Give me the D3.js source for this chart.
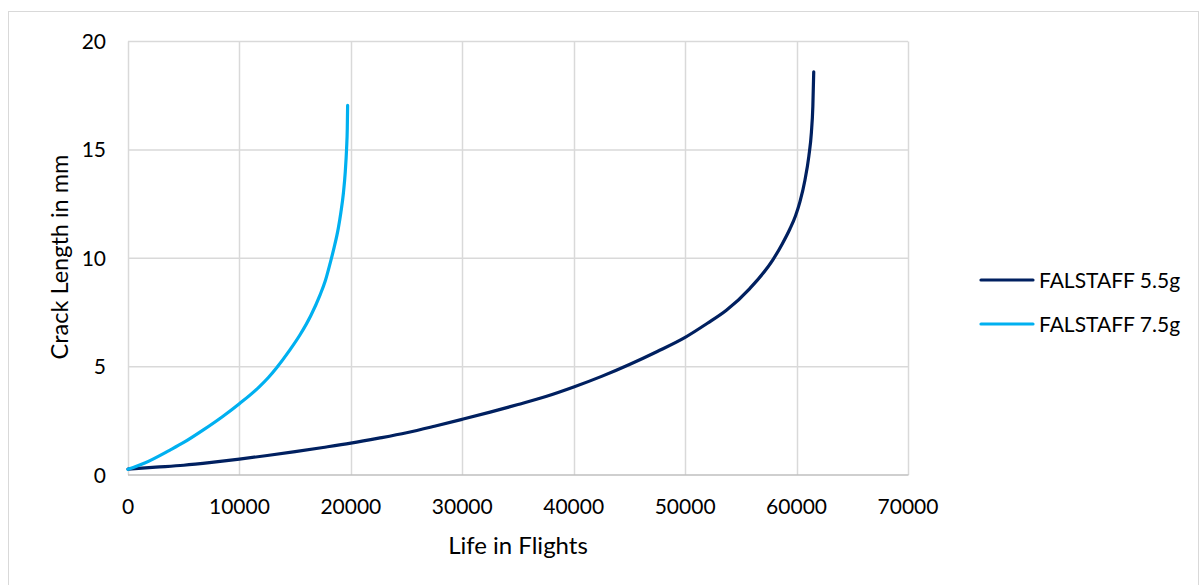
<!DOCTYPE html>
<html>
<head>
<meta charset="utf-8">
<script src="https://cdn.jsdelivr.net/npm/d3@7"></script>
<style>
  html, body { margin: 0; padding: 0; background: #fff; }
  svg text { font-family: Lato, "Open Sans", sans-serif; fill: #000; }
</style>
</head>
<body>
<svg id="chart" width="1200" height="585"></svg>
<script>
// ---- data ----
const seriesNames = ["FALSTAFF 5.5g", "FALSTAFF 7.5g"];
const seriesColors = ["#002060", "#00b0f0"];
const flights55 = [0, 2500, 5000, 7500, 10000, 12500, 15000, 17500, 20000, 22500, 25000, 27500, 30000, 32500, 35000, 37500, 40000, 42500, 45000, 47500, 50000, 52000, 53700, 55800, 57900, 58700, 59400, 59900, 60300, 60750, 61100, 61330, 61460, 61540];
const crack55   = [0.27, 0.36, 0.45, 0.58, 0.73, 0.9, 1.08, 1.27, 1.47, 1.7, 1.95, 2.25, 2.57, 2.9, 3.25, 3.62, 4.06, 4.55, 5.1, 5.7, 6.35, 7.0, 7.6, 8.6, 9.95, 10.65, 11.35, 11.95, 12.6, 13.6, 14.7, 15.8, 17.0, 18.6];
const flights75 = [0, 1500, 3770, 5000, 6760, 8500, 10050, 11800, 12600, 13340, 14500, 15440, 16400, 17230, 17700, 18130, 18500, 18880, 19100, 19330, 19500, 19620, 19680, 19710];
const crack75   = [0.26, 0.55, 1.15, 1.5, 2.08, 2.7, 3.31, 4.08, 4.5, 4.95, 5.75, 6.47, 7.35, 8.3, 8.95, 9.75, 10.5, 11.4, 12.1, 13.0, 14.0, 15.1, 16.0, 17.05];
const xTicks = [0, 10000, 20000, 30000, 40000, 50000, 60000, 70000];
const yTicks = [0, 5, 10, 15, 20];
const xTitle = "Life in Flights";
const yTitle = "Crack Length in mm";

(function () {
// ---- layout ----
const svg = d3.select("#chart");
const pL = 128, pR = 908, pT = 41.5, pB = 475;

svg.append("rect").attr("x", 8.5).attr("y", 11.5).attr("width", 1190).attr("height", 600)
  .attr("fill", "none").attr("stroke", "#d9d9d9").attr("stroke-width", 1);

const x = d3.scaleLinear().domain([0, 70000]).range([pL, pR]);
const y = d3.scaleLinear().domain([0, 20]).range([pB, pT]);

// gridlines
svg.append("g").selectAll("line").data(xTicks).join("line")
  .attr("x1", d => Math.round(x(d)) + 0.5).attr("x2", d => Math.round(x(d)) + 0.5)
  .attr("y1", pT).attr("y2", pB)
  .attr("stroke", "#d9d9d9").attr("stroke-width", 1.5);
svg.append("g").selectAll("line").data(yTicks.filter(d => d > 0)).join("line")
  .attr("x1", pL).attr("x2", pR)
  .attr("y1", d => y(d)).attr("y2", d => y(d))
  .attr("stroke", "#d9d9d9").attr("stroke-width", 1.5);
// bottom axis line
svg.append("line").attr("x1", pL).attr("x2", pR + 0.5).attr("y1", pB).attr("y2", pB)
  .attr("stroke", "#bfbfbf").attr("stroke-width", 1.5);

// tick labels
svg.append("g").selectAll("text").data(xTicks).join("text")
  .attr("x", d => x(d)).attr("y", 514).attr("text-anchor", "middle")
  .attr("font-size", 21).text(d => d);
svg.append("g").selectAll("text").data(yTicks).join("text")
  .attr("x", 106).attr("y", d => y(d) + 7.5).attr("text-anchor", "end")
  .attr("font-size", 21).text(d => d);

// titles
svg.append("text").attr("x", 518).attr("y", 554).attr("text-anchor", "middle")
  .attr("font-size", 24).text(xTitle);
svg.append("text").attr("transform", "translate(68,257) rotate(-90)").attr("text-anchor", "middle")
  .attr("font-size", 23.5).text(yTitle);

// lines
const line = d3.line().x(d => x(d[0])).y(d => y(d[1])).curve(d3.curveMonotoneX);
const data = [d3.zip(flights55, crack55), d3.zip(flights75, crack75)];
svg.append("g").selectAll("path").data(data).join("path")
  .attr("d", line).attr("fill", "none")
  .attr("stroke", (d, i) => seriesColors[i]).attr("stroke-width", 3.2)
  .attr("stroke-linecap", "round").attr("stroke-linejoin", "round");

// legend
const lg = svg.append("g").selectAll("g").data(seriesNames).join("g")
  .attr("transform", (d, i) => `translate(0,${280 + i * 44})`);
lg.append("line").attr("x1", 981).attr("x2", 1033).attr("y1", 0).attr("y2", 0)
  .attr("stroke", (d, i) => seriesColors[i]).attr("stroke-width", 3.2).attr("stroke-linecap", "round");
lg.append("text").attr("x", 1039).attr("y", 7.5).attr("font-size", 21).text(d => d);
})();
</script>
</body>
</html>
